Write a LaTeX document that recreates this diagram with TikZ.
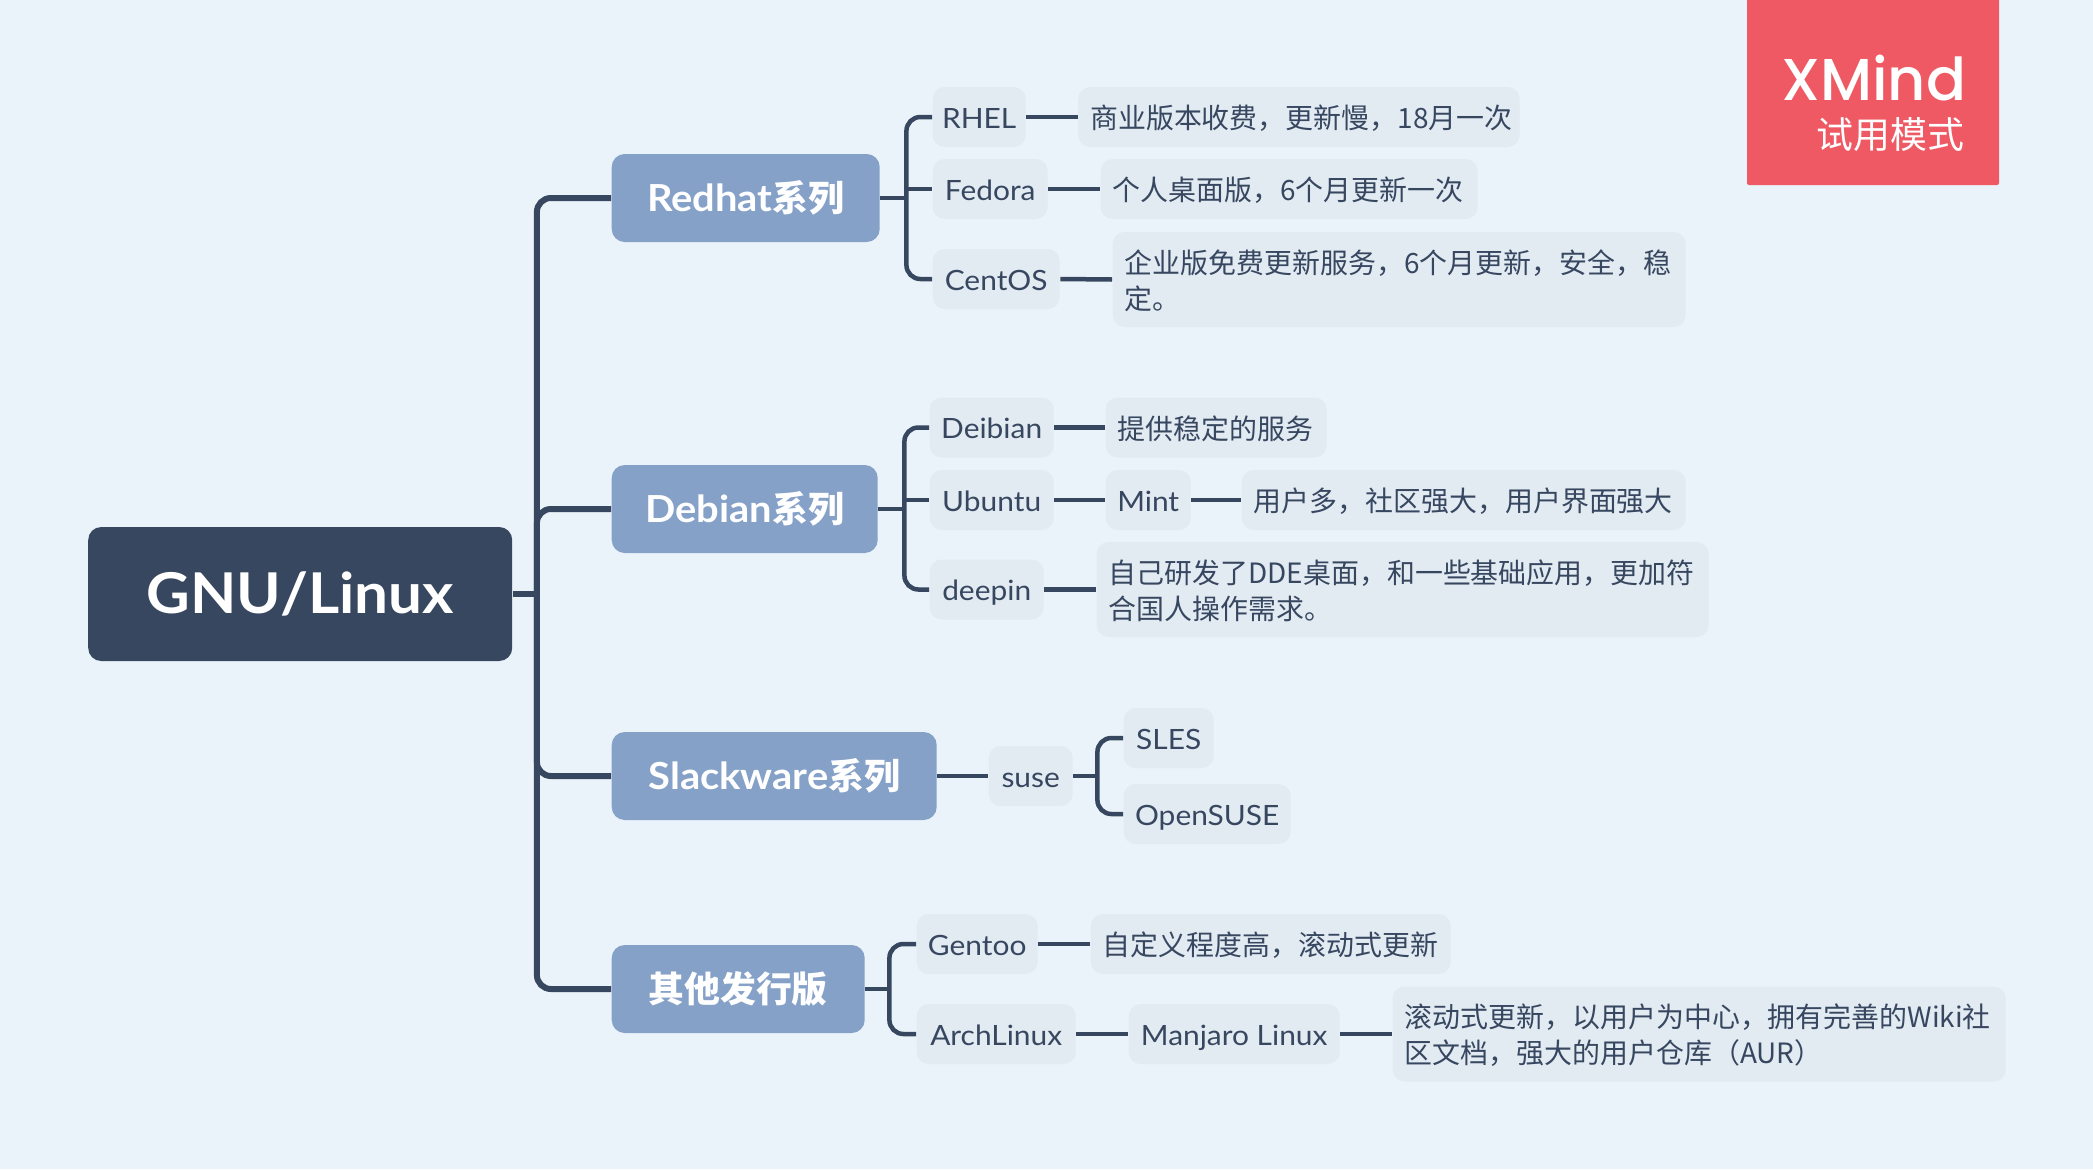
\documentclass[tikz,border=0pt]{standalone}
\usepackage{fontspec}
\setmainfont[FakeStretch=1.07]{Lato}
\newfontfamily\zh{Noto Sans CJK SC}
\newfontfamily\logofont[UprightFont={* Medium}]{Poppins}
\usetikzlibrary{calc, positioning}
\definecolor{bgblue}{HTML}{EBF3FA}
\definecolor{navy}{HTML}{374760}
\definecolor{mainblue}{HTML}{85A1C8}
\definecolor{subgray}{HTML}{E2EAF2}
\definecolor{logored}{HTML}{EE5964}
\newcommand{\zhmain}[1]{{\zh\fontsize{10.2}{12}\selectfont #1}}

\begin{document}
\begin{tikzpicture}[
  y=-1cm,
  rootbox/.style={fill=navy, text=white, rounded corners=0.13cm, minimum height=1.34cm, minimum width=4.24cm, font=\fontsize{16}{20}\selectfont\bfseries, anchor=west},
  mainbox/.style={fill=mainblue, text=white, rounded corners=0.13cm, minimum height=0.88cm, font=\fontsize{10.6}{12}\selectfont\bfseries, anchor=west, inner xsep=0pt},
  plainbox/.style={fill=subgray, text=navy, rounded corners=0.12cm, minimum height=0.6cm, font=\fontsize{7.95}{10.2}\selectfont, anchor=west, inner xsep=0pt},
  subbox/.style={plainbox, text height=7.4pt, text depth=1pt},
  descbox/.style={plainbox, text width=#1cm-0.24cm, inner xsep=0.12cm, align=left, execute at begin node={\rule{0pt}{7.5pt}}},
  trunk/.style={navy, line width=0.06cm, rounded corners=0.14cm},
  link/.style={navy, line width=0.045cm, rounded corners=0.14cm}
]
\fill[bgblue] (0,0) rectangle (20.93,11.69);
\useasboundingbox (0,0) rectangle (20.93,11.69);

% Logo
\fill[logored, rounded corners=0.02cm] (17.47,-0.1) rectangle (19.99,1.85);
\node[text=white, font=\logofont\fontsize{16.8}{20}\selectfont, anchor=east, inner sep=0pt] (xmind) at (19.67,0.78) {XMind};
\node[text=white, font=\zh\fontsize{10.5}{12}\selectfont, anchor=east, inner sep=0pt] (trial) at (19.65,1.35) {试用模式};

% Root and main topics
\node[rootbox] (root) at (0.875,5.94) {GNU/Linux};
\node[mainbox, minimum width=2.68cm] (redhat) at (6.11,1.98) {Redhat\zhmain{系列}};
\node[mainbox, minimum width=2.66cm] (debian) at (6.11,5.09) {Debian\zhmain{系列}};
\node[mainbox, minimum width=3.25cm] (slackware) at (6.11,7.76) {Slackware\zhmain{系列}};
\node[mainbox, minimum width=2.53cm] (others) at (6.11,9.89) {\zhmain{其他发行版}};

% Redhat branch
\node[subbox, minimum width=0.93cm] (rhel) at (9.32,1.17) {RHEL};
\node[subbox, minimum width=1.15cm] (fedora) at (9.32,1.89) {Fedora};
\node[subbox, minimum width=1.27cm] (centos) at (9.32,2.79) {CentOS};
\node[descbox=4.415] (rheldesc) at (10.775,1.17) {\zh 商业版本收费，更新慢，18月一次};
\node[descbox=3.77] (fedoradesc) at (11.0,1.89) {\zh 个人桌面版，6个月更新一次};
\node[descbox=5.73, minimum height=0.95cm] (centosdesc) at (11.12,2.795) {\zh 企业版免费更新服务，6个月更新，安全，稳\\定。};

% Debian branch
\node[subbox, minimum width=1.24cm] (deibian) at (9.29,4.275) {Deibian};
\node[subbox, minimum width=1.24cm] (ubuntu) at (9.29,5.0) {Ubuntu};
\node[subbox, minimum width=1.14cm] (deepin) at (9.29,5.895) {deepin};
\node[descbox=2.21] (deibiandesc) at (11.05,4.275) {\zh 提供稳定的服务};
\node[subbox, minimum width=0.85cm] (mint) at (11.05,5.0) {Mint};
\node[descbox=4.44] (mintdesc) at (12.41,5.0) {\zh 用户多，社区强大，用户界面强大};
\node[descbox=6.12, minimum height=0.95cm] (deepindesc) at (10.96,5.895) {\zh 自己研发了DDE桌面，和一些基础应用，更加符\\合国人操作需求。};

% Slackware branch
\node[subbox, minimum width=0.84cm] (suse) at (9.88,7.76) {suse};
\node[subbox, minimum width=0.9cm] (sles) at (11.23,7.38) {SLES};
\node[subbox, minimum width=1.67cm] (opensuse) at (11.23,8.14) {OpenSUSE};

% Other distributions
\node[subbox, minimum width=1.21cm] (gentoo) at (9.16,9.44) {Gentoo};
\node[subbox, minimum width=1.59cm] (archlinux) at (9.16,10.34) {ArchLinux};
\node[descbox=3.6] (gentoodesc) at (10.9,9.44) {\zh 自定义程度高，滚动式更新};
\node[subbox, minimum width=2.11cm] (manjaro) at (11.28,10.34) {Manjaro Linux};
\node[descbox=6.13, minimum height=0.95cm] (manjarodesc) at (13.92,10.34) {\zh 滚动式更新，以用户为中心，拥有完善的Wiki社\\区文档，强大的用户仓库（AUR）};

% Connectors from the root
\coordinate (rootbus) at ($(root.east)+(0.24,0)$);
\draw[trunk] (root.east) -- (rootbus);
\foreach \topic in {redhat,debian,slackware,others}
  \draw[trunk] (rootbus) |- (\topic.west);

% Connectors to the sub topics
\coordinate (redhatbus) at ($(redhat.east)+(0.26,0)$);
\draw[link] (redhat.east) -- (redhatbus);
\draw[link] (redhatbus) |- (rhel.west);
\draw[link] (redhatbus) |- (centos.west);
\draw[link] (redhatbus |- fedora.west) -- (fedora.west);

\coordinate (debianbus) at ($(debian.east)+(0.26,0)$);
\draw[link] (debian.east) -- (debianbus);
\draw[link] (debianbus) |- (deibian.west);
\draw[link] (debianbus) |- (deepin.west);
\draw[link] (debianbus |- ubuntu.west) -- (ubuntu.west);

\coordinate (susebus) at ($(suse.east)+(0.24,0)$);
\draw[link] (slackware.east) -- (suse.west);
\draw[link] (suse.east) -- (susebus);
\draw[link] (susebus) |- (sles.west);
\draw[link] (susebus) |- (opensuse.west);

\coordinate (othersbus) at ($(others.east)+(0.24,0)$);
\draw[link] (others.east) -- (othersbus);
\draw[link] (othersbus) |- (gentoo.west);
\draw[link] (othersbus) |- (archlinux.west);

% Connectors to the descriptions
\draw[link] (rhel.east) -- (rheldesc.west);
\draw[link] (fedora.east) -- (fedoradesc.west);
\draw[link] (centos.east) -- (centosdesc.west);
\draw[link] (deibian.east) -- (deibiandesc.west);
\draw[link] (ubuntu.east) -- (mint.west);
\draw[link] (mint.east) -- (mintdesc.west);
\draw[link] (deepin.east) -- (deepindesc.west);
\draw[link] (gentoo.east) -- (gentoodesc.west);
\draw[link] (archlinux.east) -- (manjaro.west);
\draw[link] (manjaro.east) -- (manjarodesc.west);

\end{tikzpicture}
\end{document}
